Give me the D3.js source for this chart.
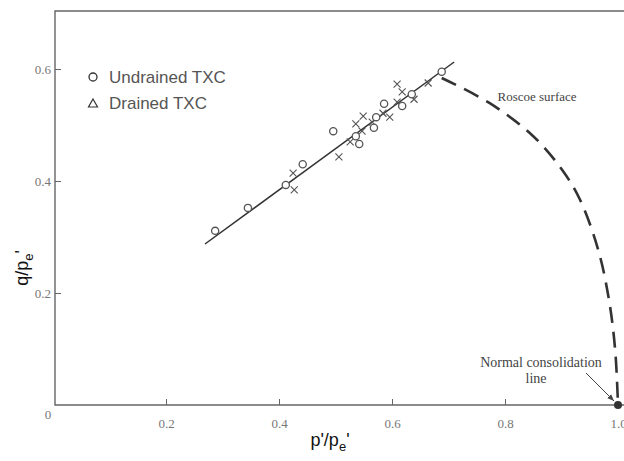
<!DOCTYPE html>
<html>
<head>
<meta charset="utf-8">
<script src="https://cdn.jsdelivr.net/npm/d3@7"></script>
<style>
  body { margin: 0; background: white; }
  svg { display: block; }
</style>
</head>
<body>
<svg id="chart" width="624" height="461"></svg>
<script>
// undrained TXC points (circles)
const undrainedP = [0.287, 0.345, 0.412, 0.442, 0.496, 0.542, 0.536, 0.568, 0.572, 0.586, 0.618, 0.635, 0.688];
const undrainedQ = [0.311, 0.352, 0.393, 0.430, 0.489, 0.466, 0.480, 0.495, 0.514, 0.538, 0.534, 0.555, 0.595];

// drained TXC points (drawn as crosses)
const drainedP = [0.609, 0.618, 0.609, 0.639, 0.664, 0.549, 0.536, 0.547, 0.565, 0.584, 0.596, 0.526, 0.506, 0.425, 0.427];
const drainedQ = [0.573, 0.559, 0.541, 0.546, 0.575, 0.516, 0.502, 0.489, 0.505, 0.521, 0.514, 0.470, 0.443, 0.414, 0.384];

// best fit line ends
const fitP = [0.269, 0.710];
const fitQ = [0.2875, 0.6125];

// Roscoe surface
const roscoeP = [0.688, 0.773, 0.850, 0.901, 0.933, 0.965, 0.984, 0.995, 1.000];
const roscoeQ = [0.584, 0.539, 0.480, 0.420, 0.366, 0.277, 0.188, 0.098, 0.000];

const xTicks = [0.2, 0.4, 0.6, 0.8, 1.0];
const yTicks = [0.2, 0.4, 0.6];

const svg = d3.select('#chart');
const axisColor = '#666';
const labelColor = '#777';
const serif = '"Liberation Serif", "DejaVu Serif", serif';
const sans = '"Liberation Sans", Arial, sans-serif';

const x = d3.scaleLinear().domain([0, 1]).range([53, 618]);
const y = d3.scaleLinear().domain([0, 0.6]).range([405, 69]);

const plot = { left: 55, top: 11, right: 624, bottom: 405 };

// frame: left, bottom, top
svg.append('path')
    .attr('d', `M${plot.right},${plot.top} L${plot.left},${plot.top} L${plot.left},${plot.bottom} L${plot.right},${plot.bottom}`)
    .attr('fill', 'none')
    .attr('stroke', axisColor)
    .attr('stroke-width', 1.4);

// x axis ticks
const xAxis = svg.append('g')
    .attr('transform', `translate(0,${plot.bottom})`)
    .call(d3.axisBottom(x).tickValues(xTicks).tickSizeInner(-6).tickSizeOuter(0).tickPadding(14)
        .tickFormat(d3.format('.1f')));
xAxis.select('.domain').remove();
xAxis.selectAll('line').attr('stroke', axisColor).filter(d => d === 1.0).remove();
xAxis.selectAll('text')
    .style('font-family', serif)
    .style('font-size', '13px')
    .attr('fill', labelColor);

// y axis ticks
const yAxis = svg.append('g')
    .attr('transform', `translate(${plot.left},0)`)
    .call(d3.axisLeft(y).tickValues(yTicks).tickSizeInner(-6).tickSizeOuter(0).tickPadding(4)
        .tickFormat(d3.format('.1f')));
yAxis.select('.domain').remove();
yAxis.selectAll('line').attr('stroke', axisColor);
yAxis.selectAll('text')
    .style('font-family', serif)
    .style('font-size', '13px')
    .attr('fill', labelColor);

// origin label
svg.append('text')
    .attr('x', 48).attr('y', 419)
    .attr('text-anchor', 'middle')
    .style('font-family', serif).style('font-size', '13px')
    .attr('fill', labelColor)
    .text('0');

// axis titles
const xt = svg.append('text')
    .attr('x', 330).attr('y', 446)
    .attr('text-anchor', 'middle')
    .style('font-family', sans).style('font-size', '18px')
    .attr('fill', '#111');
xt.append('tspan').text("p'/p");
xt.append('tspan').attr('dy', 5).style('font-size', '13px').text('e');
xt.append('tspan').attr('dy', -5).text("'");

const yt = svg.append('text')
    .attr('transform', 'translate(28,268) rotate(-90)')
    .attr('text-anchor', 'middle')
    .style('font-family', sans).style('font-size', '18px')
    .attr('fill', '#111');
yt.append('tspan').text('q/p');
yt.append('tspan').attr('dy', 5).style('font-size', '13px').text('e');
yt.append('tspan').attr('dy', -5).text("'");

// fit line
svg.append('line')
    .attr('x1', x(fitP[0])).attr('y1', y(fitQ[0]))
    .attr('x2', x(fitP[1])).attr('y2', y(fitQ[1]))
    .attr('stroke', '#333')
    .attr('stroke-width', 1.5);

// Roscoe surface dashed
const roscoe = roscoeP.map((p, i) => [p, roscoeQ[i]]);
svg.append('path')
    .datum(roscoe)
    .attr('d', d3.line().x(d => x(d[0])).y(d => y(d[1])).curve(d3.curveCatmullRom))
    .attr('fill', 'none')
    .attr('stroke', '#333')
    .attr('stroke-width', 2.6)
    .attr('stroke-dasharray', '16,9');

// crosses
const drained = drainedP.map((p, i) => [p, drainedQ[i]]);
svg.append('g').selectAll('path')
    .data(drained)
    .enter().append('path')
    .attr('transform', d => `translate(${x(d[0])},${y(d[1])})`)
    .attr('d', 'M-3.5,-3.5L3.5,3.5M-3.5,3.5L3.5,-3.5')
    .attr('stroke', '#555')
    .attr('stroke-width', 1.1);

// circles
const undrained = undrainedP.map((p, i) => [p, undrainedQ[i]]);
svg.append('g').selectAll('circle')
    .data(undrained)
    .enter().append('circle')
    .attr('cx', d => x(d[0]))
    .attr('cy', d => y(d[1]))
    .attr('r', 3.6)
    .attr('fill', 'white')
    .attr('stroke', '#555')
    .attr('stroke-width', 1.3);

// NCL point
svg.append('circle')
    .attr('cx', x(1.0)).attr('cy', y(0))
    .attr('r', 4)
    .attr('fill', '#333');

// annotations
svg.append('text')
    .attr('x', 537).attr('y', 101)
    .attr('text-anchor', 'middle')
    .style('font-family', serif).style('font-size', '13px')
    .attr('fill', '#444')
    .text('Roscoe surface');

svg.append('text')
    .attr('x', 541).attr('y', 367)
    .attr('text-anchor', 'middle')
    .style('font-family', serif).style('font-size', '14px')
    .attr('fill', '#444')
    .text('Normal consolidation');
svg.append('text')
    .attr('x', 536).attr('y', 383)
    .attr('text-anchor', 'middle')
    .style('font-family', serif).style('font-size', '14px')
    .attr('fill', '#444')
    .text('line');

svg.append('defs').append('marker')
    .attr('id', 'arrow')
    .attr('viewBox', '0 0 10 10')
    .attr('refX', 10).attr('refY', 5)
    .attr('markerWidth', 7).attr('markerHeight', 7)
    .attr('orient', 'auto')
    .append('path')
    .attr('d', 'M0,1 L10,5 L0,9 Z')
    .attr('fill', '#444');

svg.append('line')
    .attr('x1', 586).attr('y1', 373)
    .attr('x2', x(1.0) - 4).attr('y2', y(0) - 4)
    .attr('stroke', '#444')
    .attr('stroke-width', 1)
    .attr('marker-end', 'url(#arrow)');

// legend
const legend = svg.append('g').attr('transform', 'translate(93,77)');
legend.append('circle')
    .attr('cx', 0).attr('cy', 0).attr('r', 4)
    .attr('fill', 'none').attr('stroke', '#333').attr('stroke-width', 1.3);
legend.append('text')
    .attr('x', 16).attr('y', 6)
    .style('font-family', sans).style('font-size', '17px')
    .attr('fill', '#555')
    .text('Undrained TXC');
legend.append('path')
    .attr('d', 'M0,-4 L4.5,4 L-4.5,4 Z')
    .attr('transform', 'translate(0,26)')
    .attr('fill', 'none').attr('stroke', '#333').attr('stroke-width', 1.2);
legend.append('text')
    .attr('x', 16).attr('y', 32)
    .style('font-family', sans).style('font-size', '17px')
    .attr('fill', '#555')
    .text('Drained TXC');
</script>
</body>
</html>
